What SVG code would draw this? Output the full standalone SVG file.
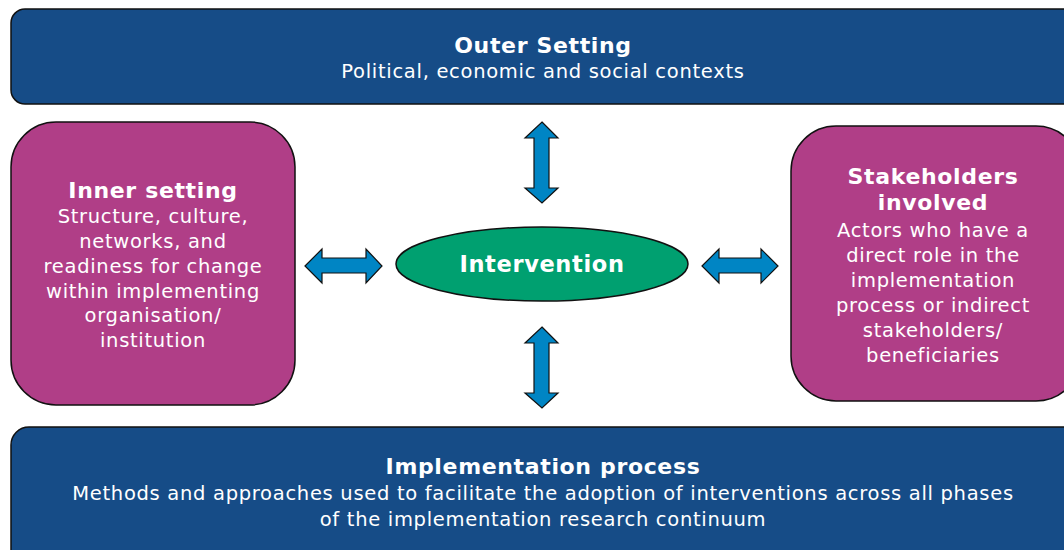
<svg xmlns="http://www.w3.org/2000/svg" width="1064" height="550" viewBox="0 0 1064 550">
<style>
.blue{fill:#164c87;stroke:#111;stroke-width:1.5}
.mag{fill:#b03e87;stroke:#111;stroke-width:1.5}
.green{fill:#00a070;stroke:#111;stroke-width:1.5}
.arr{fill:#0085c4;stroke:#111;stroke-width:1.2}
text{font-family:"DejaVu Sans",Verdana,sans-serif;fill:#fff;text-anchor:middle}
.t{font-weight:bold;font-size:22px;letter-spacing:0.65px}
.s{font-size:19.5px;letter-spacing:0.7px}
</style>
<rect width="1064" height="550" fill="#fff"/>
<g id="outer-setting">
<rect class="blue" x="11" y="9" width="1070" height="95" rx="14"/>
<text class="t" x="543" y="53">Outer Setting</text>
<text class="s" x="543" y="78">Political, economic and social contexts</text>
</g>
<g id="inner-setting">
<rect class="mag" x="11" y="122" width="284" height="283" rx="45"/>
<text class="t" x="153" y="198">Inner setting</text>
<text class="s" x="153" y="223">Structure, culture,</text>
<text class="s" x="153" y="248">networks, and</text>
<text class="s" x="153" y="273">readiness for change</text>
<text class="s" x="153" y="298">within implementing</text>
<text class="s" x="153" y="322">organisation/</text>
<text class="s" x="153" y="347">institution</text>
</g>
<g id="stakeholders">
<rect class="mag" x="791" y="126" width="290" height="275" rx="45"/>
<text class="t" x="933" y="184">Stakeholders</text>
<text class="t" x="933" y="210">involved</text>
<text class="s" x="933" y="237">Actors who have a</text>
<text class="s" x="933" y="262">direct role in the</text>
<text class="s" x="933" y="287">implementation</text>
<text class="s" x="933" y="312">process or indirect</text>
<text class="s" x="933" y="337">stakeholders/</text>
<text class="s" x="933" y="362">beneficiaries</text>
</g>
<g id="intervention">
<ellipse class="green" cx="542" cy="264" rx="146" ry="37"/>
<text class="t" x="542" y="272" style="font-size:22.5px">Intervention</text>
</g>
<g id="implementation-process">
<rect class="blue" x="11" y="427" width="1070" height="140" rx="18"/>
<text class="t" x="543" y="474">Implementation process</text>
<text class="s" x="543" y="500">Methods and approaches used to facilitate the adoption of interventions across all phases</text>
<text class="s" x="543" y="526">of the implementation research continuum</text>
</g>
<g id="connectors">
<polygon class="arr" points="542,122 558,138 549,138 549,188 558,188 542,203 525,188 534,188 534,138 525,138"/>
<polygon class="arr" points="542,327 558,343 549,343 549,393 558,393 542,408 525,393 534,393 534,343 525,343"/>
<polygon class="arr" points="305,266 322,249 322,258 366,258 366,249 382,266 366,283 366,273 322,273 322,283"/>
<polygon class="arr" points="702,266 719,249 719,258 761,258 761,249 778,266 761,283 761,273 719,273 719,283"/>
</g>
</svg>
